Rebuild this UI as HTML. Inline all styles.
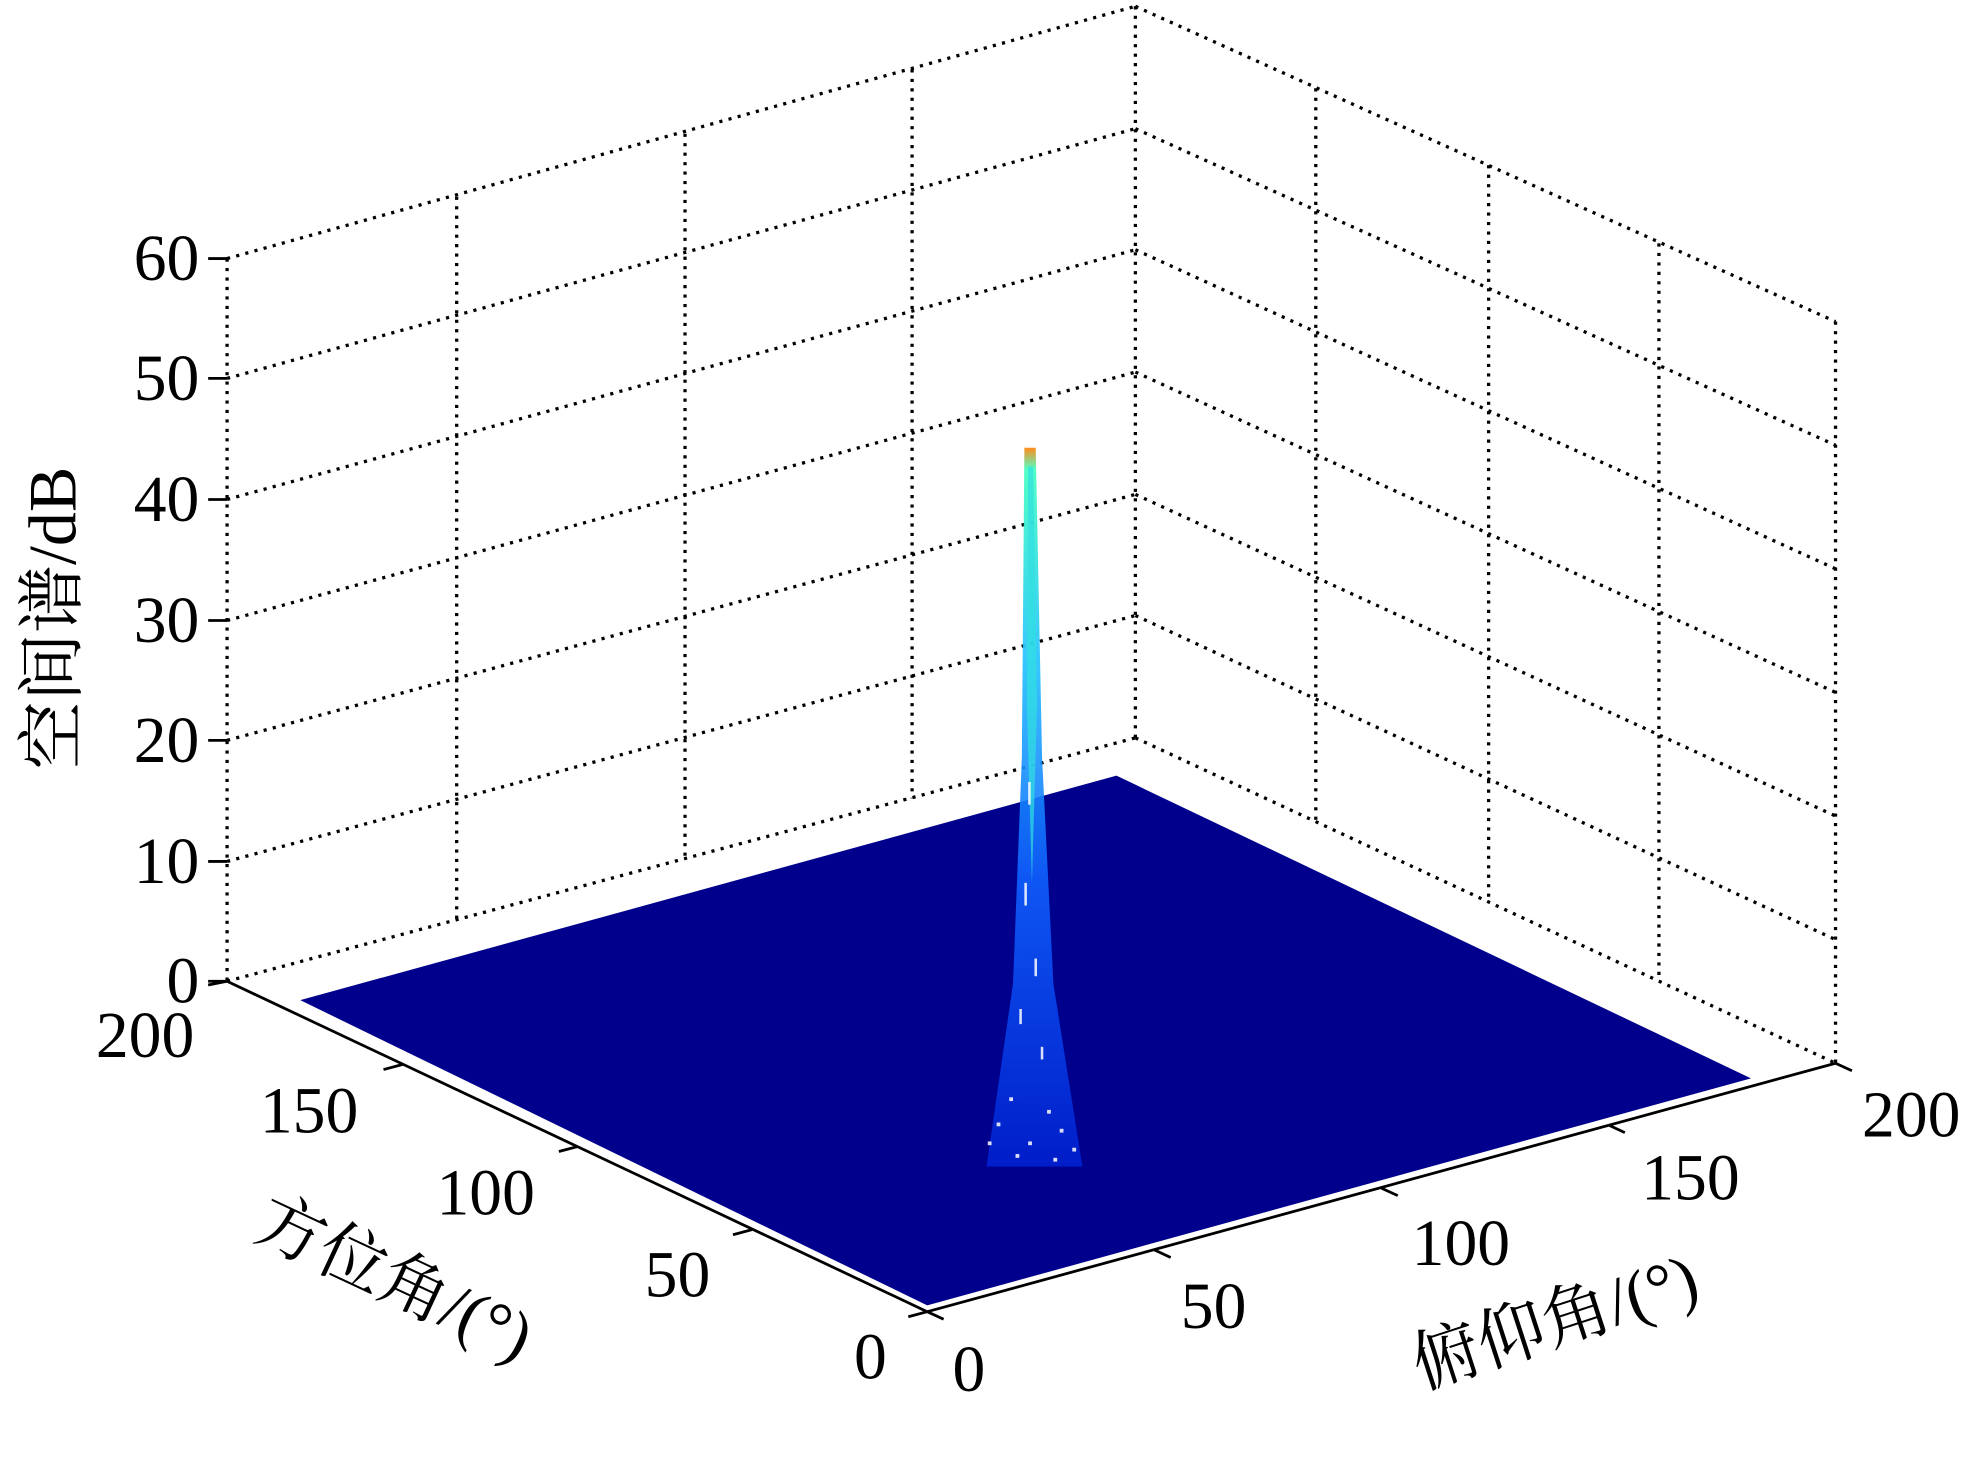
<!DOCTYPE html>
<html><head><meta charset="utf-8">
<style>
html,body{margin:0;padding:0;background:#fff;}
svg{display:block;}
text{font-family:"Liberation Serif","Noto Serif CJK SC",serif;fill:#000;}
</style></head>
<body>
<svg width="1968" height="1458" viewBox="0 0 1560 1156" preserveAspectRatio="none" xmlns="http://www.w3.org/2000/svg">
<defs>
<linearGradient id="pk" x1="0" y1="0" x2="0" y2="1">
<stop offset="0" stop-color="#ff8000"/>
<stop offset="0.03" stop-color="#40ffc0"/>
<stop offset="0.3" stop-color="#20c0ff"/>
<stop offset="0.6" stop-color="#1060ff"/>
<stop offset="1" stop-color="#0020d0"/>
</linearGradient>
</defs>
<g stroke="#000" stroke-width="2.6" stroke-dasharray="2.5,5" fill="none">
<line x1="180" y1="778" x2="900" y2="585"/>
<line x1="180" y1="683" x2="900" y2="488"/>
<line x1="180" y1="587" x2="900" y2="392"/>
<line x1="180" y1="492" x2="900" y2="295"/>
<line x1="180" y1="396" x2="900" y2="198"/>
<line x1="180" y1="300" x2="900" y2="102"/>
<line x1="180" y1="205" x2="900" y2="5"/>
<line x1="900" y1="585" x2="1455" y2="843"/>
<line x1="900" y1="488" x2="1455" y2="745"/>
<line x1="900" y1="392" x2="1455" y2="647"/>
<line x1="900" y1="295" x2="1455" y2="549"/>
<line x1="900" y1="198" x2="1455" y2="451"/>
<line x1="900" y1="102" x2="1455" y2="353"/>
<line x1="900" y1="5" x2="1455" y2="255"/>
<line x1="180" y1="205" x2="180" y2="778"/>
<line x1="362" y1="156" x2="362" y2="730"/>
<line x1="543" y1="106" x2="543" y2="682"/>
<line x1="723" y1="55" x2="723" y2="633"/>
<line x1="900" y1="5" x2="900" y2="585"/>
<line x1="1043" y1="70" x2="1043" y2="652"/>
<line x1="1180" y1="131" x2="1180" y2="715"/>
<line x1="1315" y1="193" x2="1315" y2="778"/>
<line x1="1455" y1="255" x2="1455" y2="843"/>
</g>
<g stroke="#000" stroke-width="2.2" fill="none">
<line x1="180" y1="778" x2="735" y2="1040"/>
<line x1="735" y1="1040" x2="1455" y2="843"/>
<line x1="165" y1="778" x2="180" y2="778"/>
<line x1="165" y1="683" x2="180" y2="683"/>
<line x1="165" y1="587" x2="180" y2="587"/>
<line x1="165" y1="492" x2="180" y2="492"/>
<line x1="165" y1="396" x2="180" y2="396"/>
<line x1="165" y1="300" x2="180" y2="300"/>
<line x1="165" y1="205" x2="180" y2="205"/>
<line x1="180" y1="778" x2="165" y2="781"/>
<line x1="319" y1="844" x2="304" y2="848"/>
<line x1="458" y1="909" x2="443" y2="913"/>
<line x1="596" y1="975" x2="581" y2="979"/>
<line x1="735" y1="1040" x2="720" y2="1044"/>
<line x1="735" y1="1040" x2="748" y2="1046"/>
<line x1="915" y1="991" x2="928" y2="997"/>
<line x1="1095" y1="942" x2="1108" y2="948"/>
<line x1="1275" y1="892" x2="1288" y2="898"/>
<line x1="1455" y1="843" x2="1468" y2="849"/>
</g>
<polygon points="238,793 885,615 1388,855 735,1035" fill="#00008c"/>
<polygon points="812,355 821,355 826,600 835,780 858,925 782,925 803,780 810,600" fill="url(#pk)" opacity="0.9"/>
<polygon points="815,370 819,370 822,560 818,700 814,560" fill="#30e0e0" opacity="0.7"/>
<g fill="#fff" opacity="0.85">
<rect x="815" y="620" width="2" height="18"/><rect x="812" y="700" width="2" height="18"/>
<rect x="820" y="760" width="2" height="14"/><rect x="808" y="800" width="2" height="12"/>
<rect x="825" y="830" width="2" height="10"/><rect x="800" y="870" width="3" height="3"/>
<rect x="790" y="890" width="3" height="3"/><rect x="840" y="895" width="3" height="3"/>
<rect x="815" y="905" width="3" height="3"/><rect x="850" y="910" width="3" height="3"/>
<rect x="783" y="905" width="3" height="3"/><rect x="830" y="880" width="3" height="3"/>
<rect x="805" y="915" width="3" height="3"/><rect x="835" y="918" width="3" height="3"/>
</g>
<g font-size="52" text-anchor="end">
<text x="158" y="795">0</text>
<text x="158" y="700">10</text>
<text x="158" y="604">20</text>
<text x="158" y="509">30</text>
<text x="158" y="413">40</text>
<text x="158" y="317">50</text>
<text x="158" y="222">60</text>
</g>
<g font-size="52" text-anchor="middle">
<text x="115" y="838">200</text>
<text x="245" y="898">150</text>
<text x="385" y="963">100</text>
<text x="537" y="1028">50</text>
<text x="690" y="1093">0</text>
<text x="768" y="1103">0</text>
<text x="962" y="1053">50</text>
<text x="1158" y="1003">100</text>
<text x="1340" y="951">150</text>
<text x="1515" y="901">200</text>
</g>
<text font-size="54" transform="translate(60,490) rotate(-90)" text-anchor="middle">空间谱/dB</text>
<text font-size="54" transform="translate(305,1030) rotate(25)" text-anchor="middle">方位角/(°)</text>
<text font-size="54" transform="translate(1238,1065) rotate(-18)" text-anchor="middle">俯仰角/(°)</text>
</svg>
</body></html>
